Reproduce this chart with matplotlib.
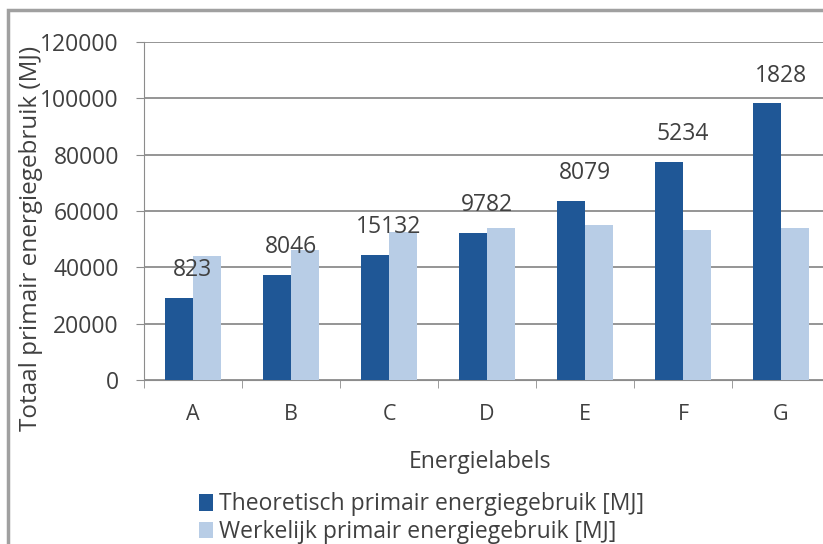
import matplotlib.pyplot as plt
import matplotlib.patches as mpatches
import numpy as np

labels = ['A', 'B', 'C', 'D', 'E', 'F', 'G']
theoretisch = [29100, 37300, 44300, 52200, 63700, 77300, 98200]
werkelijk = [44100, 46200, 52700, 54100, 54900, 53200, 54100]
aantallen = ['823', '8046', '15132', '9782', '8079', '5234', '1828']

dark = '#1f5796'
light = '#b8cde6'
grid = '#8c8c8c'
txt = '#404040'

plt.rcParams['font.family'] = ['Open Sans', 'DejaVu Sans']

fig = plt.figure(figsize=(8.23, 5.44), dpi=100)
# plot area: x 144..830 px, y 42..380 px
ax = fig.add_axes([144 / 823, 1 - 380 / 544, 686 / 823, 338 / 544])

x = np.arange(len(labels))
w = 0.285
ax.bar(x - w / 2, theoretisch, w, color=dark, label='Theoretisch primair energiegebruik [MJ]', zorder=3)
ax.bar(x + w / 2, werkelijk, w, color=light, label='Werkelijk primair energiegebruik [MJ]', zorder=3)

for i in range(len(labels)):
    ax.annotate(aantallen[i], (x[i], theoretisch[i]), xytext=(0, 20), textcoords='offset points',
                ha='center', va='center', fontsize=16.5, color=txt, zorder=4)

ax.set_xlim(-0.5, len(labels) - 0.5)
ax.set_ylim(0, 120000)
ax.set_yticks(range(0, 120001, 20000))
ax.yaxis.grid(True, color=grid, linewidth=1.3, zorder=0)
ax.set_xticks(x)
ax.set_xticklabels(labels)
ax.set_xticks(np.arange(-0.5, len(labels), 1), minor=True)
ax.tick_params(axis='x', which='major', length=0, pad=17, labelsize=15.5, labelcolor=txt)
ax.tick_params(axis='x', which='minor', length=6, color=grid, direction='out')
ax.tick_params(axis='y', length=6, color=grid, labelsize=16.5, labelcolor=txt, pad=12)
for s in ['top', 'right']:
    ax.spines[s].set_visible(False)
ax.spines['left'].set_color(grid)
ax.spines['bottom'].set_color(grid)

fig.text(31 / 823, 1 - 238 / 544, 'Totaal primair energiegebruik (MJ)', rotation=90,
         ha='center', va='center', fontsize=17.5, color=txt)
fig.text(480 / 823, 1 - 462 / 544, 'Energielabels', ha='center', va='center', fontsize=16.5, color=txt)

leg = fig.legend(loc='upper left', bbox_to_anchor=(188 / 823, 1 - 481 / 544), frameon=False,
                 fontsize=16.5, handlelength=0.6, handleheight=0.75, handletextpad=0.25,
                 labelspacing=0.15, borderpad=0)
for t in leg.get_texts():
    t.set_color(txt)

# outer chart frame
fig.patches.append(mpatches.Rectangle((8 / 823, -0.1), 1.1, 1 - 10 / 544 + 0.1, transform=fig.transFigure,
                                      fill=False, edgecolor='#a0a0a0', linewidth=2.5))

fig.savefig('out.png', dpi=100)
